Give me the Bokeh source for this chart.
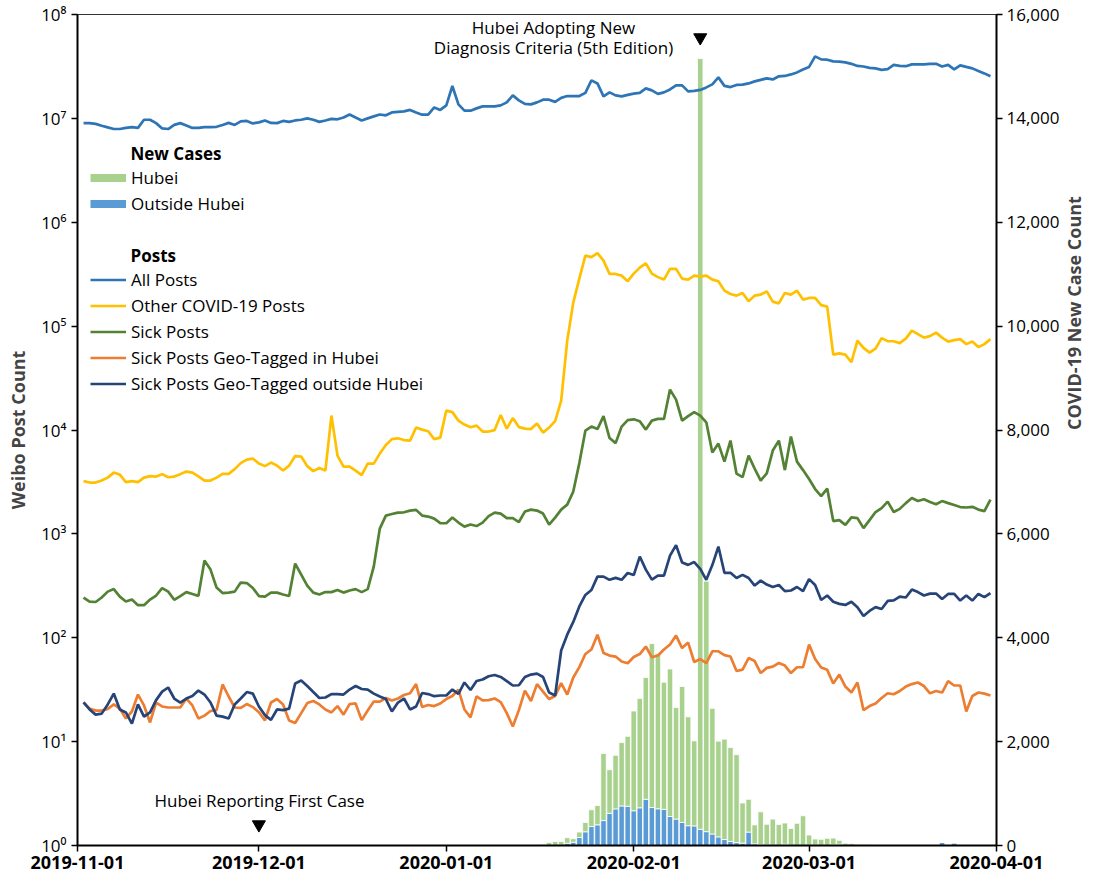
import math
from datetime import datetime
import pandas as pd
from bokeh.plotting import figure
from bokeh.models import (Range1d, LinearAxis, LinearScale, FixedTicker, CustomJSTickFormatter,
                          NumeralTickFormatter, DatetimeTickFormatter, Legend, LegendItem, Label,
                          ColumnDataSource)
from bokeh.embed import file_html
from bokeh.resources import INLINE

FONT = "Open Sans"

# ---------------- data ----------------
post_dates = pd.date_range("2019-11-02", "2020-03-31", freq="D")

all_posts = [
    9.0e6, 9.0e6, 8.85e6, 8.5e6, 8.2e6, 7.9e6, 7.9e6, 8.1e6, 8.25e6, 8.1e6,
    9.7e6, 9.7e6, 9.0e6, 8.0e6, 7.9e6, 8.65e6, 9.0e6, 8.55e6, 8.1e6, 8.1e6,
    8.25e6, 8.25e6, 8.3e6, 8.65e6, 9.05e6, 8.65e6, 9.35e6, 9.45e6, 8.95e6, 9.15e6,
    9.55e6, 9.05e6, 9.0e6, 9.45e6, 9.25e6, 9.55e6, 9.7e6, 1.0e7, 9.7e6, 9.25e6,
    9.55e6, 9.9e6, 9.8e6, 1.02e7, 1.09e7, 1.02e7, 9.55e6, 1.0e7, 1.045e7, 1.09e7,
    1.07e7, 1.14e7, 1.155e7, 1.168e7, 1.207e7, 1.14e7, 1.085e7, 1.085e7, 1.276e7, 1.207e7,
    1.334e7, 2.05e7, 1.363e7, 1.186e7, 1.186e7, 1.248e7, 1.305e7, 1.305e7, 1.305e7, 1.334e7,
    1.426e7, 1.665e7, 1.49e7, 1.379e7, 1.363e7, 1.426e7, 1.513e7, 1.513e7, 1.442e7, 1.575e7,
    1.64e7, 1.64e7, 1.64e7, 1.759e7, 2.32e7, 2.17e7, 1.628e7, 1.779e7, 1.665e7, 1.628e7,
    1.683e7, 1.73e7, 1.759e7, 1.944e7, 1.86e7, 1.722e7, 1.779e7, 1.9e7, 2.08e7, 2.08e7,
    1.82e7, 1.84e7, 1.88e7, 1.987e7, 2.125e7, 2.48e7, 2.055e7, 2.0e7, 2.1e7, 2.11e7,
    2.17e7, 2.27e7, 2.35e7, 2.43e7, 2.37e7, 2.54e7, 2.56e7, 2.65e7, 2.77e7, 2.96e7,
    3.13e7, 3.95e7, 3.7e7, 3.67e7, 3.54e7, 3.52e7, 3.46e7, 3.35e7, 3.2e7, 3.16e7,
    3.06e7, 3.03e7, 2.93e7, 2.98e7, 3.27e7, 3.2e7, 3.18e7, 3.31e7, 3.31e7, 3.31e7,
    3.35e7, 3.35e7, 3.16e7, 3.27e7, 2.96e7, 3.24e7, 3.13e7, 3.03e7, 2.86e7, 2.71e7,
    2.54e7,
]

other_covid_posts = [
    3220, 3120, 3120, 3260, 3480, 3890, 3720, 3150, 3220, 3150,
    3480, 3600, 3560, 3760, 3510, 3560, 3760, 3980, 3890, 3570,
    3260, 3260, 3480, 3780, 3780, 4200, 4800, 5190, 5310, 4750,
    4490, 4860, 4540, 4070, 4540, 5610, 5550, 4490, 4020, 4300,
    4070, 13770, 5670, 4440, 4440, 4070, 3680, 4750, 4750, 5930,
    7160, 8170, 8320, 8000, 7910, 10550, 10090, 9720, 8170, 8450,
    15380, 14870, 12310, 11270, 10620, 11020, 9660, 9660, 9980, 13910,
    10310, 13020, 10670, 10310, 10200, 11530, 9440, 10550, 12180, 19180,
    72500, 168400, 286600, 477000, 461000, 504500, 426900, 318000, 318000, 306000,
    271000, 320000, 365600, 402000, 320000, 296300, 280400, 355600, 355600, 286600,
    280400, 306000, 299500, 306000, 280400, 270000, 219600, 204000, 196600, 208700,
    173300, 196600, 201000, 216300, 172100, 165700, 208700, 201000, 219600, 180000,
    186800, 186800, 159300, 154200, 53200, 54700, 53200, 44900, 72500, 61700,
    55600, 60700, 76700, 71700, 71500, 68600, 75800, 90500, 83800, 77500,
    80100, 86600, 77500, 71000, 73300, 75000, 67100, 71000, 62800, 67100,
    75000,
]

sick_posts = [
    244, 223, 221, 244, 278, 294, 249, 223, 233, 206,
    206, 233, 255, 301, 278, 232, 252, 275, 264, 253,
    553, 453, 304, 269, 272, 278, 340, 336, 301, 252,
    249, 272, 272, 261, 252, 518, 406, 318, 272, 261,
    275, 275, 288, 272, 285, 294, 275, 294, 484, 1125,
    1500, 1552, 1603, 1614, 1676, 1703, 1500, 1468, 1403, 1271,
    1265, 1435, 1285, 1175, 1230, 1189, 1285, 1484, 1603, 1568,
    1419, 1415, 1300, 1640, 1713, 1676, 1568, 1230, 1435, 1713,
    1914, 2553, 4800, 9860, 10790, 10200, 13610, 8360, 7480, 10790,
    12460, 12680, 12130, 10090, 12310, 12790, 12790, 24470, 19620, 12310,
    13610, 14870, 13770, 11860, 6060, 7400, 4960, 7910, 3800, 3520,
    5670, 4250, 3260, 3830, 6340, 7910, 4110, 8640, 4960, 4110,
    3370, 2700, 2311, 2730, 1328, 1358, 1221, 1444, 1419, 1137,
    1358, 1622, 1771, 2047, 1622, 1741, 1978, 2212, 2069, 2153,
    2024, 1927, 2069, 1978, 1893, 1811, 1794, 1822, 1713, 1657,
    2138,
]

sick_hubei = [
    23.9, 20.8, 19.9, 19.9, 20.6, 22.8, 20.8, 16.7, 19.5, 28.4,
    22.3, 15.3, 23.8, 21.8, 21.3, 21.3, 21.3, 26.0, 22.3, 16.7,
    17.8, 19.7, 20.1, 35.5, 27.2, 21.3, 21.1, 23.0, 21.5, 19.2,
    16.0, 23.8, 25.7, 22.8, 16.0, 15.1, 18.8, 23.5, 24.6, 22.8,
    20.4, 19.1, 22.0, 18.2, 23.0, 23.3, 16.1, 19.9, 24.3, 24.3,
    26.3, 24.9, 26.0, 28.1, 29.2, 35.8, 21.5, 22.5, 22.0, 23.3,
    25.7, 27.5, 31.7, 20.4, 17.1, 27.2, 24.9, 25.1, 26.0, 24.0,
    18.8, 14.0, 20.1, 31.0, 24.6, 35.8, 30.3, 25.7, 27.5, 36.6,
    28.4, 41.4, 52.2, 69.7, 77.0, 107, 71.3, 67.4, 65.9, 59.0,
    56.9, 65.2, 69.7, 82.3, 64.9, 67.4, 77.0, 86.0, 105, 79.6,
    89.9, 58.4, 62.4, 56.9, 74.1, 74.1, 68.1, 65.9, 47.8, 49.4,
    63.8, 59.7, 45.7, 51.3, 52.8, 57.1, 54.0, 45.7, 52.0, 52.0,
    86.0, 62.4, 51.7, 49.1, 36.3, 44.2, 33.9, 29.7, 37.1, 20.1,
    22.0, 23.3, 26.3, 29.2, 28.6, 30.7, 33.9, 35.8, 37.1, 34.3,
    29.2, 30.7, 29.7, 38.3, 34.7, 34.7, 19.5, 27.5, 29.7, 29.0,
    27.8,
]

sick_outside = [
    23.9, 20.4, 18.2, 18.6, 22.8, 29.0, 20.4, 19.1, 14.9, 22.8,
    17.4, 19.1, 25.1, 30.3, 33.2, 26.0, 23.8, 26.0, 27.5, 31.0,
    28.4, 23.8, 17.8, 17.4, 16.7, 22.8, 26.0, 30.0, 29.0, 21.8,
    18.0, 16.2, 20.4, 20.1, 20.8, 36.3, 38.7, 34.3, 30.0, 26.3,
    26.6, 28.7, 28.6, 28.4, 31.7, 34.3, 32.1, 31.7, 29.0, 27.2,
    25.7, 19.5, 23.8, 26.0, 20.4, 21.8, 29.4, 28.7, 27.4, 27.8,
    27.8, 31.7, 28.8, 37.1, 31.4, 38.3, 39.6, 42.6, 43.8, 41.9,
    38.3, 34.7, 34.9, 41.9, 44.2, 45.2, 41.9, 29.7, 27.8, 75.3,
    107, 142, 200, 258, 288, 388, 388, 361, 377, 361,
    420, 401, 605, 453, 363, 397, 397, 618, 780, 530,
    503, 535, 460, 361, 501, 755, 422, 422, 376, 403,
    376, 318, 355, 325, 308, 322, 281, 285, 308, 281,
    367, 322, 231, 255, 222, 212, 207, 222, 197, 162,
    181, 197, 189, 226, 229, 249, 244, 291, 275, 255,
    266, 266, 236, 264, 264, 228, 255, 228, 264, 246,
    269,
]

case_dates = pd.date_range("2020-01-16", "2020-03-31", freq="D")
cases_hubei = [
    4, 17, 59, 77, 72, 105, 69, 105, 180, 323, 371, 1291, 840, 1032, 1220, 1347,
    1921, 2103, 2345, 3156, 2987, 2447, 2841, 2147, 2618, 2097, 1638, 14840, 4823, 2420,
    1843, 1933, 1807, 1693, 775, 631, 366, 630, 398, 499, 401, 409, 318, 423, 570,
    196, 114, 115, 134, 126, 74, 41, 36, 17, 13, 8, 5, 4, 4, 4, 1, 1, 0, 0, 0,
    0, 0, 0, 1, 0, 0, 0, 0, 0, 0, 0,
]
cases_outside = [
    0, 0, 0, 0, 5, 44, 62, 154, 264, 365, 398, 480, 619, 705, 762, 755,
    669, 726, 890, 731, 707, 696, 558, 509, 444, 381, 377, 312, 267, 221,
    166, 115, 79, 56, 45, 258, 31, 18, 11, 9, 5, 24, 9, 4, 3,
    6, 11, 4, 5, 17, 25, 3, 4, 2, 11, 7, 3, 4, 5, 6, 4, 5, 6, 8, 8,
    9, 10, 60, 8, 50, 9, 8, 7, 6, 8, 7,
]

x_tick_dates = ["2019-11-01", "2019-12-01", "2020-01-01", "2020-02-01", "2020-03-01", "2020-04-01"]
y_ticks_posts = [1, 10, 100, 1000, 10000, 100000, 1000000, 10000000, 100000000]
y_ticks_cases = [0, 2000, 4000, 6000, 8000, 10000, 12000, 14000, 16000]

event_dates = ["2019-12-01", "2020-02-12"]

# ---------------- figure ----------------
p = figure(width=1102, height=881, x_axis_type="datetime", y_axis_type="log",
           x_range=Range1d(datetime(2019, 11, 1), datetime(2020, 4, 1)),
           y_range=Range1d(1, 1e8),
           output_backend="svg", toolbar_location=None,
           min_border_left=77, min_border_right=106, min_border_top=14, min_border_bottom=36)
p.background_fill_color = "white"
p.border_fill_color = "white"
p.xgrid.visible = False
p.ygrid.visible = False
p.outline_line_color = "#333333"
p.outline_line_width = 1

p.extra_y_ranges = {"cases": Range1d(0, 16000)}
p.extra_y_scales = {"cases": LinearScale()}

C_ALL = "#2E75B6"
C_OTHER = "#FFC000"
C_SICK = "#548235"
C_HUB = "#ED7D31"
C_OUT = "#264478"
C_BAR_H = "#A9D18E"
C_BAR_O = "#5B9BD5"

bar_src = ColumnDataSource(dict(date=case_dates, outside=cases_outside, hubei=cases_hubei))
day_ms = 86400000
p.vbar_stack(["outside", "hubei"], x="date", width=0.9 * day_ms, source=bar_src,
             color=[C_BAR_O, C_BAR_H], line_color="white", line_width=0.8,
             y_range_name="cases")

lw = 2.7
line_rends = [
    p.line(post_dates, all_posts, line_width=lw, color=C_ALL),
    p.line(post_dates, other_covid_posts, line_width=lw, color=C_OTHER),
    p.line(post_dates, sick_posts, line_width=lw, color=C_SICK),
    p.line(post_dates, sick_hubei, line_width=lw, color=C_HUB),
    p.line(post_dates, sick_outside, line_width=lw, color=C_OUT),
]

# event markers
p.scatter(x=[pd.Timestamp(d) for d in event_dates], y=[1.59, 6.0e7],
          marker="inverted_triangle", size=13, fill_color="black", line_color="black")

# ---------------- axes ----------------
x_ticks_ms = [pd.Timestamp(d).value / 1e6 for d in x_tick_dates]
p.xaxis.ticker = FixedTicker(ticks=x_ticks_ms)
p.xaxis.formatter = DatetimeTickFormatter(days="%Y-%m-%d", months="%Y-%m-%d", years="%Y-%m-%d")
p.xaxis.major_label_text_font = FONT
p.xaxis.major_label_text_font_style = "bold"
p.xaxis.major_label_text_font_size = "18px"
p.xaxis.major_label_text_color = "black"
p.xaxis.major_label_standoff = 4

p.yaxis.ticker = FixedTicker(ticks=y_ticks_posts)
p.yaxis.formatter = CustomJSTickFormatter(code=r"""
const sup = ["\u2070","\u00b9","\u00b2","\u00b3","\u2074","\u2075","\u2076","\u2077","\u2078","\u2079"];
const e = Math.round(Math.log10(tick));
return "10" + String(e).split("").map(c => sup[parseInt(c)]).join("");
""")
p.yaxis.axis_label = "Weibo Post Count"
p.yaxis.axis_label_text_font = FONT
p.yaxis.axis_label_text_font_style = "bold"
p.yaxis.axis_label_text_font_size = "18px"
p.yaxis.major_label_text_font = FONT
p.yaxis.major_label_text_font_size = "17px"
p.yaxis.major_label_text_color = "black"
p.yaxis.axis_label_standoff = 8

right = LinearAxis(y_range_name="cases", ticker=FixedTicker(ticks=y_ticks_cases),
                   formatter=NumeralTickFormatter(format="0,0"),
                   axis_label="COVID-19 New Case Count")
right.axis_label_text_font = FONT
right.axis_label_text_font_style = "bold"
right.axis_label_text_font_size = "18px"
right.major_label_text_font = FONT
right.major_label_text_font_size = "17px"
right.major_label_text_color = "black"
right.major_label_standoff = 4
right.axis_label_standoff = 11
try:
    right.axis_label_orientation = math.pi / 2
except Exception:
    pass
p.add_layout(right, "right")

for ax in [p.xaxis[0], p.yaxis[0], right]:
    ax.axis_line_color = "black"
    ax.axis_line_width = 2
    ax.major_tick_line_color = "black"
    ax.major_tick_line_width = 1.5
    ax.major_tick_out = 6
    ax.major_tick_in = 0
    ax.minor_tick_line_color = None

# ---------------- legends ----------------
far = [datetime(2000, 1, 1), datetime(2000, 1, 2)]
proxy_h = p.line(x=far, y=[1, 1], line_width=8, color=C_BAR_H)
proxy_o = p.line(x=far, y=[1, 1], line_width=8, color=C_BAR_O)

common = dict(glyph_width=36, glyph_height=23, label_height=23, spacing=3, padding=0,
              margin=0, label_standoff=5, border_line_color=None, background_fill_alpha=0,
              label_text_font=FONT, label_text_font_size="17px", label_text_color="black")

leg_a = Legend(items=[LegendItem(label="Hubei", renderers=[proxy_h]),
                      LegendItem(label="Outside Hubei", renderers=[proxy_o])],
               location=(13, 630), **common)
labels_b = ["All Posts", "Other COVID-19 Posts", "Sick Posts",
            "Sick Posts Geo-Tagged in Hubei", "Sick Posts Geo-Tagged outside Hubei"]
leg_b = Legend(items=[LegendItem(label=l, renderers=[r]) for l, r in zip(labels_b, line_rends)],
               location=(13, 450), **common)
p.add_layout(leg_a)
p.add_layout(leg_b)

for txt, y in [("New Cases", 692), ("Posts", 590)]:
    p.add_layout(Label(x=53, y=y, x_units="screen", y_units="screen", text=txt,
                       text_font=FONT, text_font_style="bold", text_font_size="17px",
                       text_baseline="middle", text_align="left", text_color="black"))

for txt, x, y in [("Hubei Adopting New", 476, 818),
                  ("Diagnosis Criteria (5th Edition)", 476, 798),
                  ("Hubei Reporting First Case", 182, 45)]:
    p.add_layout(Label(x=x, y=y, x_units="screen", y_units="screen", text=txt,
                       text_font=FONT, text_font_size="17px", text_baseline="middle",
                       text_align="center", text_color="black"))

open("out.html", "w", encoding="utf-8").write(file_html(p, INLINE))
